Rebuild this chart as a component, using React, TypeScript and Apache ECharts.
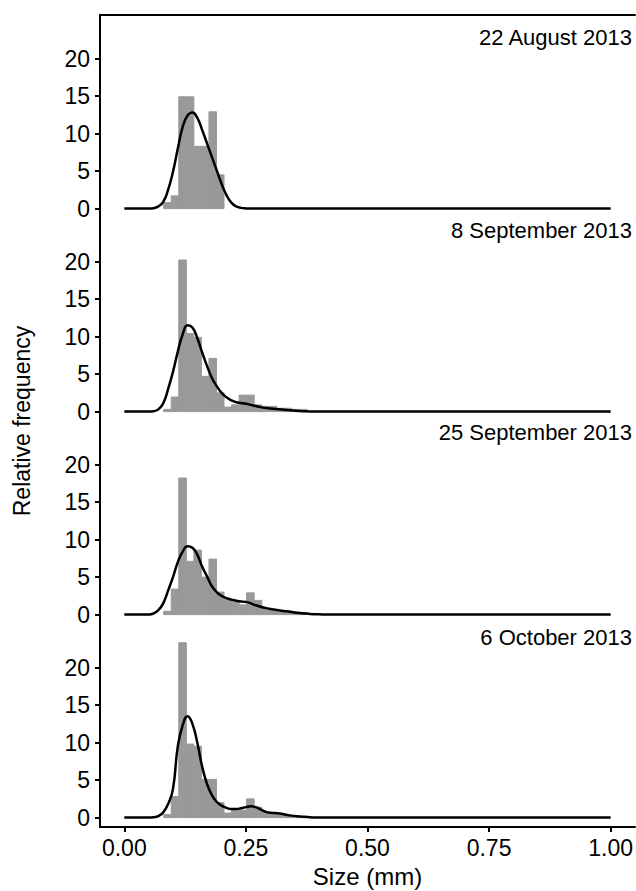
import React, { useEffect, useRef } from "react";
import * as echarts from "echarts";

const panelTitles = ["22 August 2013", "8 September 2013", "25 September 2013", "6 October 2013"];

// histogram bins (lower edges, mm) and bin width
const binLeft = [0.081, 0.0965, 0.112, 0.1275, 0.143, 0.1585, 0.174, 0.1895, 0.205, 0.2205, 0.236, 0.2515, 0.267, 0.2825, 0.298, 0.3135, 0.329, 0.3445, 0.36];
const binWidth = 0.0155;

const histAug22 = [0.8, 1.7, 14.9, 14.9, 8.3, 8.3, 12.9, 4.5, 0, 0, 0, 0, 0, 0, 0, 0, 0, 0, 0];
const histSep08 = [0.3, 1.95, 20.2, 10.4, 9.9, 4.7, 7.1, 2.5, 0.6, 0.9, 2.2, 2.2, 0.9, 0.7, 0.7, 0.45, 0.45, 0.3, 0.3];
const histSep25 = [0.45, 3.4, 18.2, 7.1, 8.6, 5.0, 7.4, 3.0, 2.0, 1.9, 1.3, 2.9, 1.9, 0.8, 0.6, 0.5, 0.5, 0.35, 0.3];
const histOct06 = [0.4, 2.8, 23.3, 9.8, 9.5, 5.1, 5.1, 2.0, 0.6, 1.0, 1.0, 2.5, 1.4, 0.7, 0.7, 0.5, 0.3, 0.2, 0.1];

// density curves
const densX = [0, 0.05, 0.06, 0.07, 0.08, 0.09, 0.10, 0.11, 0.12, 0.13, 0.14, 0.15, 0.16, 0.17, 0.18, 0.19, 0.20, 0.21, 0.22, 0.23, 0.24, 0.25, 0.26, 0.27, 0.28, 0.29, 0.30, 0.32, 0.34, 0.36, 0.38, 0.40, 0.45, 0.50, 1.00];
const densAug22 = [0, 0, 0.05, 0.3, 0.9, 2.5, 4.9, 8.0, 10.9, 12.4, 12.8, 12.1, 10.5, 8.7, 6.9, 5.1, 3.3, 1.8, 0.8, 0.3, 0.1, 0.03, 0, 0, 0, 0, 0, 0, 0, 0, 0, 0, 0, 0, 0];
const densSep08 = [0, 0, 0.05, 0.3, 1.1, 3.0, 5.3, 8.0, 10.3, 11.5, 11.2, 9.8, 7.9, 6.1, 4.5, 3.4, 2.5, 1.9, 1.5, 1.25, 1.15, 1.05, 0.9, 0.75, 0.6, 0.5, 0.42, 0.3, 0.18, 0.08, 0.03, 0.01, 0, 0, 0];
const densSep25 = [0, 0.02, 0.15, 0.6, 1.5, 3.2, 5.0, 7.0, 8.4, 9.1, 8.9, 8.0, 6.4, 5.1, 3.8, 3.0, 2.5, 2.2, 2.0, 1.85, 1.75, 1.7, 1.5, 1.25, 1.05, 0.9, 0.75, 0.55, 0.38, 0.22, 0.1, 0.04, 0, 0, 0];
const densOct06 = [0, 0, 0.05, 0.2, 0.7, 1.8, 3.8, 9.5, 12.3, 13.5, 12.5, 10.0, 6.8, 4.5, 3.0, 2.1, 1.6, 1.3, 1.15, 1.15, 1.25, 1.4, 1.5, 1.4, 1.1, 0.8, 0.65, 0.55, 0.3, 0.15, 0.06, 0.02, 0, 0, 0];

const xTicks = [0, 0.25, 0.5, 0.75, 1];
const yTicks = [0, 5, 10, 15, 20];

const FONT = '"Liberation Sans", Arial, Helvetica, sans-serif';

export default function App() {
  const ref = useRef<HTMLDivElement>(null);

  useEffect(() => {
    const chart = echarts.init(ref.current!, null, { renderer: "svg" });
    const hists = [histAug22, histSep08, histSep25, histOct06];
    const dens = [densAug22, densSep08, densSep25, densOct06];
    const titleY = [37, 230, 432.5, 637];

    const grids = hists.map((_, i) => ({ left: 100, width: 535, top: 15 + 203 * i, height: 203 }));

    const xAxes: any[] = hists.map((_, i) => ({
      type: "value",
      gridIndex: i,
      min: -0.05,
      max: 1.05,
      position: "bottom",
      show: i === 3,
      axisLine: { show: true, onZero: false, lineStyle: { color: "#000", width: 2 } },
      axisTick: { show: true, length: 5, customValues: xTicks, lineStyle: { color: "#000", width: 2 } },
      axisLabel: {
        customValues: xTicks,
        formatter: (v: number) => v.toFixed(2),
        color: "#000",
        fontSize: 23,
        fontFamily: FONT,
        margin: 9,
      },
      splitLine: { show: false },
      name: i === 3 ? "Size (mm)" : "",
      nameLocation: "middle",
      nameGap: 37,
      nameTextStyle: { color: "#000", fontSize: 24, fontFamily: FONT },
    }));
    xAxes.push({
      type: "value",
      gridIndex: 0,
      min: -0.05,
      max: 1.05,
      position: "top",
      axisLine: { show: true, onZero: false, lineStyle: { color: "#000", width: 2 } },
      axisTick: { show: false },
      axisLabel: { show: false },
      splitLine: { show: false },
    });

    const yAxes = hists.map((_, i) => ({
      type: "value",
      gridIndex: i,
      min: -1.25,
      max: 25.8,
      axisLine: { show: true, onZero: false, lineStyle: { color: "#000", width: 2 } },
      axisTick: { show: true, length: 5, customValues: yTicks, lineStyle: { color: "#000", width: 2 } },
      axisLabel: { customValues: yTicks, color: "#000", fontSize: 23, fontFamily: FONT, margin: 10 },
      splitLine: { show: false },
    }));

    const series: any[] = [];
    hists.forEach((h, i) => {
      series.push({
        type: "custom",
        xAxisIndex: i,
        yAxisIndex: i,
        encode: { x: [0, 1], y: 2 },
        data: binLeft.map((b, j) => [b, b + binWidth, h[j]]).filter((d) => d[2] > 0),
        renderItem: (params: any, api: any) => {
          const p0 = api.coord([api.value(0), 0]);
          const p1 = api.coord([api.value(1), api.value(2)]);
          return {
            type: "rect",
            shape: { x: p0[0], y: p1[1], width: p1[0] - p0[0], height: p0[1] - p1[1] },
            style: { fill: "#999999", stroke: "#999999", lineWidth: 1 },
          };
        },
        z: 1,
      });
      series.push({
        type: "line",
        xAxisIndex: i,
        yAxisIndex: i,
        data: densX.map((x, j) => [x, dens[i][j]]),
        smooth: 0.5,
        showSymbol: false,
        lineStyle: { color: "#000", width: 2.5 },
        z: 3,
      });
    });

    const graphic: any[] = panelTitles.map((t, i) => ({
      type: "text",
      x: 632,
      y: titleY[i],
      style: { text: t, fill: "#000", font: `22px ${FONT}`, align: "right", verticalAlign: "middle" },
    }));
    graphic.push({
      type: "text",
      x: 22,
      y: 421,
      rotation: Math.PI / 2,
      style: { text: "Relative frequency", fill: "#000", font: `23px ${FONT}`, align: "center", verticalAlign: "middle" },
    });

    chart.setOption({
      animation: false,
      backgroundColor: "#fff",
      grid: grids,
      xAxis: xAxes,
      yAxis: yAxes,
      series,
      graphic,
    });
    return () => chart.dispose();
  }, []);

  return <div ref={ref} style={{ position: "fixed", left: 0, top: 0, width: 636, height: 891 }} />;
}
